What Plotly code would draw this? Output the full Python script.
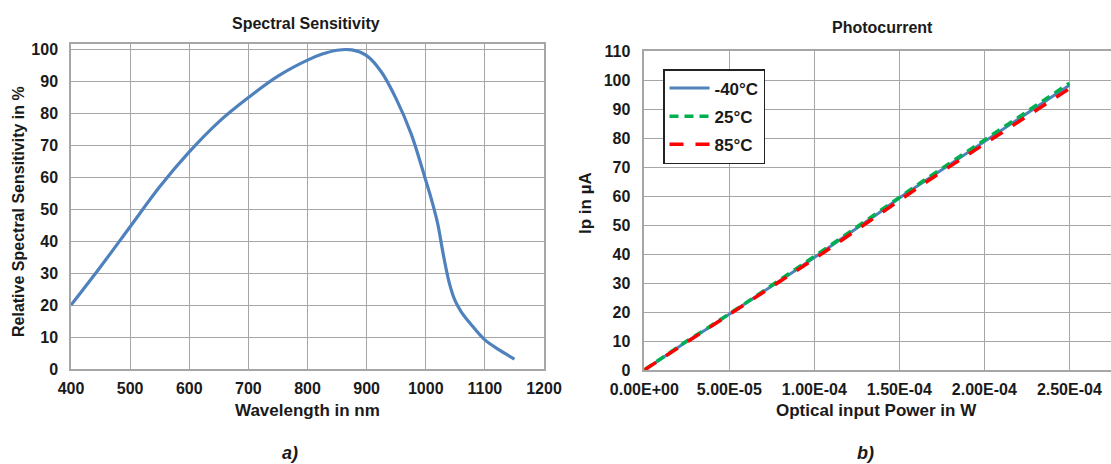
import plotly.graph_objects as go

# ---- Data: spectral sensitivity (chart a) ----
wavelength_nm = [400, 450, 500, 550, 600, 650, 700, 750, 800, 825, 850, 875, 900, 925,
                 950, 975, 1000, 1010, 1020, 1030, 1040, 1050, 1060, 1075, 1100, 1125, 1150]
rel_sensitivity = [20, 32, 44.5, 57, 67.9, 77.3, 84.9, 91.6, 96.6, 98.5, 99.7, 99.8, 98.0, 92.9,
                   84.5, 73.7, 59, 52.8, 45.6, 35.5, 26.8, 21.2, 17.9, 14.3, 9.1, 5.9, 3.1]

# ---- Data: photocurrent (chart b) ----
power_w = [0, 1.25e-5, 2.5e-5, 3.75e-5, 5e-5, 6.25e-5, 7.5e-5, 8.75e-5, 1e-4, 1.125e-4, 1.25e-4,
           1.375e-4, 1.5e-4, 1.625e-4, 1.75e-4, 1.875e-4, 2e-4, 2.125e-4, 2.25e-4, 2.375e-4, 2.5e-4]
ip_m40 = [0, 5.0, 9.8, 14.4, 19.2, 24.0, 28.9, 33.8, 38.8, 43.8, 48.9, 54.0, 59.3, 64.2,
          69.1, 74.0, 78.9, 83.7, 88.6, 93.4, 98.2]
ip_25 = [0, 5.1, 10.0, 14.6, 19.3, 24.2, 29.2, 34.1, 39.1, 44.2, 49.3, 54.5, 59.7, 64.6,
         69.5, 74.4, 79.4, 84.2, 89.1, 94.0, 98.9]
ip_85 = [0, 4.8, 9.6, 14.2, 18.9, 23.7, 28.6, 33.4, 38.3, 43.3, 48.4, 53.5, 58.7, 63.5,
         68.4, 73.2, 77.9, 82.6, 87.4, 92.2, 97.0]
series_names = ["-40°C", "25°C", "85°C"]

power_tickvals = [0, 5e-5, 1e-4, 1.5e-4, 2e-4, 2.5e-4]
power_ticktext = ["0.00E+00", "5.00E-05", "1.00E-04", "1.50E-04", "2.00E-04", "2.50E-04"]

FONT = "Liberation Sans, Arial, sans-serif"
GRID = "#a6a6a6"
TXT = "#1a1a1a"

fig = go.Figure()

fig.add_trace(go.Scatter(x=wavelength_nm, y=rel_sensitivity, mode="lines",
                         line=dict(color="#4f81bd", width=3.2, shape="spline", smoothing=1.0),
                         showlegend=False, xaxis="x", yaxis="y"))

fig.add_trace(go.Scatter(x=power_w, y=ip_m40, mode="lines", name=series_names[0],
                         line=dict(color="#4f81bd", width=3),
                         xaxis="x2", yaxis="y2", legendgroup="a"))
fig.add_trace(go.Scatter(x=power_w, y=ip_25, mode="lines", name=series_names[1],
                         line=dict(color="#00b050", width=3.5, dash="9px,6px"),
                         xaxis="x2", yaxis="y2", legendgroup="b"))
fig.add_trace(go.Scatter(x=power_w, y=ip_85, mode="lines", name=series_names[2],
                         line=dict(color="#ff0000", width=3.5, dash="14px,12px"),
                         xaxis="x2", yaxis="y2", legendgroup="c"))

W, H = 1111, 464
def px(x):
    return x / W
def py(y):
    return (H - y) / H

tickfont = dict(family=FONT, size=16, color=TXT, weight="bold")
axis_common = dict(showgrid=True, gridcolor=GRID, gridwidth=1.3, zeroline=False,
                   showline=True, linecolor=GRID, linewidth=1.5, ticks="",
                   tickfont=tickfont, automargin=False)

fig.update_layout(
    width=W, height=H, margin=dict(l=0, r=0, t=0, b=0),
    paper_bgcolor="white", plot_bgcolor="white",
    font=dict(family=FONT, color=TXT),
    xaxis=dict(domain=[px(71), px(544)], range=[400, 1200], dtick=100, anchor="y",
               mirror=True, ticklabelstandoff=4, **axis_common),
    yaxis=dict(domain=[py(369), py(43.7)], range=[0, 101.75], dtick=10, anchor="x",
               mirror=True, ticklabelstandoff=8, **axis_common),
    xaxis2=dict(domain=[px(644.3), 1.0], range=[0, 2.745e-4], tickvals=power_tickvals,
                ticktext=power_ticktext, anchor="y2", ticklabelstandoff=4, mirror=True,
                **axis_common),
    yaxis2=dict(domain=[py(370), py(51)], range=[0, 110], dtick=10, anchor="x2",
                ticklabelstandoff=9, mirror=True, **axis_common),
    legend=dict(x=px(663), y=py(69), xanchor="left", yanchor="top",
                bordercolor="#222222", borderwidth=1.5, bgcolor="white",
                font=dict(family=FONT, size=17, color=TXT, weight="bold"),
                itemwidth=40, tracegroupgap=3, traceorder="grouped"),
)

def ann(text, x, y, size=16, angle=0, italic=False):
    t = "<b>" + (f"<i>{text}</i>" if italic else text) + "</b>"
    fig.add_annotation(text=t, x=px(x), y=py(y), xref="paper", yref="paper",
                       showarrow=False, textangle=angle, xanchor="center", yanchor="middle",
                       font=dict(family=FONT, size=size, color=TXT))

ann("Spectral Sensitivity", 306, 24, 16)
ann("Photocurrent", 882, 27, 16)
ann("Wavelength in nm", 307, 410, 17)
ann("Optical input Power in W", 876, 410, 17)
ann("Relative Spectral Sensitivity in %", 18, 212, 16, angle=-90)
ann("Ip in µA", 585, 203, 17, angle=-90)
ann("a)", 290, 453, 18, italic=True)
ann("b)", 865, 453, 18, italic=True)

fig.write_html("out.html", config={"displayModeBar": False},
               post_script="document.body.style.margin='0';document.body.style.overflow='hidden';")
